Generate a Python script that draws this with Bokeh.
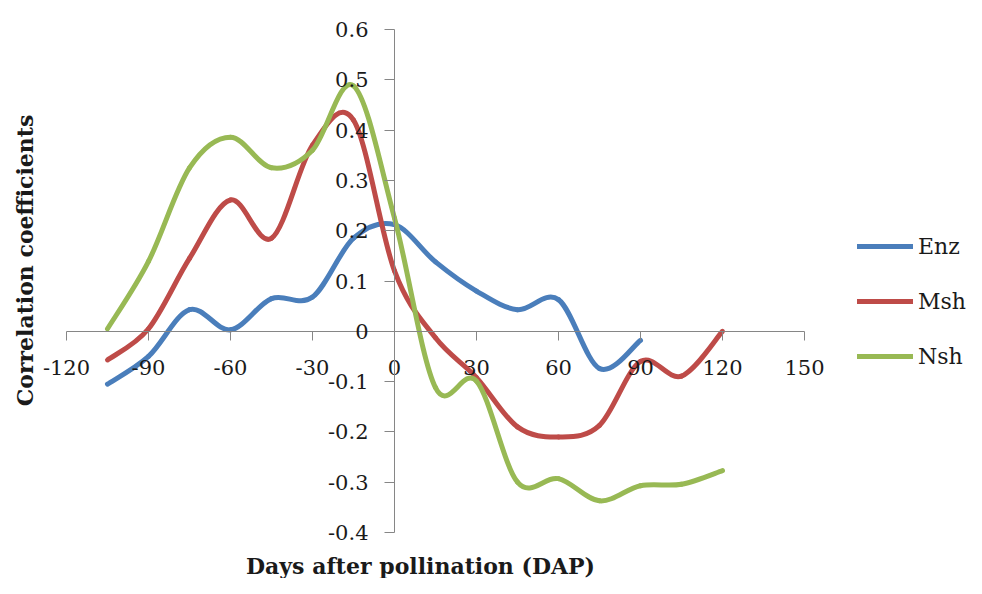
import math
from bokeh.plotting import figure
from bokeh.models import FixedTicker, Legend, LegendItem, Label, ColumnDataSource
from bokeh.embed import file_html
from bokeh.resources import INLINE

# ---- data ----
days_enz = [-105, -90, -75, -60, -45, -30, -15, 0, 15, 30, 45, 60, 75, 90]
enz = [-0.105, -0.05, 0.043, 0.003, 0.065, 0.068, 0.185, 0.212, 0.138, 0.08, 0.043, 0.063, -0.074, -0.018]

days_all = [-105, -90, -75, -60, -45, -30, -15, 0, 15, 30, 45, 60, 75, 90, 105, 120]
msh = [-0.057, 0.005, 0.145, 0.261, 0.185, 0.37, 0.42, 0.12, -0.013, -0.092, -0.19, -0.21, -0.187, -0.06, -0.089, 0.0]
nsh = [0.005, 0.139, 0.325, 0.386, 0.325, 0.36, 0.488, 0.225, -0.112, -0.099, -0.30, -0.293, -0.337, -0.307, -0.304, -0.277]

series_names = ["Enz", "Msh", "Nsh"]
series_colors = ["#4A7EBB", "#BE4B48", "#98B954"]

x_ticks = [-120, -90, -60, -30, 0, 30, 60, 90, 120, 150]
x_tick_labels = ["-120", "-90", "-60", "-30", "0", "30", "60", "90", "120", "150"]
y_ticks = [-0.4, -0.3, -0.2, -0.1, 0, 0.1, 0.2, 0.3, 0.4, 0.5, 0.6]
y_tick_labels = ["-0.4", "-0.3", "-0.2", "-0.1", "0", "0.1", "0.2", "0.3", "0.4", "0.5", "0.6"]

x_label = "Days after pollination (DAP)"
y_label = "Correlation coefficients"

SERIF = "DejaVu Serif"
W, H = 966, 578
# pixel geometry of the axes box (canvas px from top-left)
AX_L, AX_R, AX_T, AX_B = 66, 804, 29, 532
X0, X1 = x_ticks[0], x_ticks[-1]
Y0, Y1 = y_ticks[0], y_ticks[-1]
sx = (AX_R - AX_L) / (X1 - X0)
sy = (AX_B - AX_T) / (Y1 - Y0)
x_range = (X0 - AX_L / sx, X1 + (W - AX_R) / sx)
y_range = (Y0 - (H - AX_B) / sy, Y1 + AX_T / sy)


def px_to_data(px, py):
    return x_range[0] + px / sx, y_range[1] - py / sy


def smooth_segments(xs, ys):
    """Catmull-Rom style control points for bezier segments (Excel-like smoothing)."""
    n = len(xs)
    d = dict(x0=[], y0=[], x1=[], y1=[], cx0=[], cy0=[], cx1=[], cy1=[])
    for i in range(n - 1):
        xm, ym = (xs[i - 1], ys[i - 1]) if i > 0 else (xs[i], ys[i])
        xp, yp = (xs[i + 2], ys[i + 2]) if i + 2 < n else (xs[i + 1], ys[i + 1])
        d["x0"].append(xs[i]); d["y0"].append(ys[i])
        d["x1"].append(xs[i + 1]); d["y1"].append(ys[i + 1])
        d["cx0"].append(xs[i] + (xs[i + 1] - xm) / 6.0)
        d["cy0"].append(ys[i] + (ys[i + 1] - ym) / 6.0)
        d["cx1"].append(xs[i + 1] - (xp - xs[i]) / 6.0)
        d["cy1"].append(ys[i + 1] - (yp - ys[i]) / 6.0)
    return ColumnDataSource(d)


p = figure(width=W, height=H, output_backend="svg", toolbar_location=None,
           x_range=x_range, y_range=y_range, min_border=0)
p.outline_line_color = None
p.grid.visible = False
p.background_fill_color = "white"
p.border_fill_color = "white"

# axes crossing at origin
p.xaxis.fixed_location = 0
p.yaxis.fixed_location = 0
p.xaxis.bounds = (X0, X1)
p.yaxis.bounds = (Y0, Y1)
for ax in (p.xaxis, p.yaxis):
    ax.axis_line_color = "#868686"
    ax.major_tick_line_color = "#868686"
    ax.minor_tick_line_color = None
    ax.major_tick_in = 0
    ax.major_label_text_font = SERIF
    ax.major_label_text_font_size = "21px"
    ax.major_label_text_color = "#1a1a1a"
p.xaxis.ticker = FixedTicker(ticks=x_ticks)
p.yaxis.ticker = FixedTicker(ticks=y_ticks)
p.xaxis.major_label_overrides = {v: s for v, s in zip(x_ticks, x_tick_labels)}
p.yaxis.major_label_overrides = {v: s for v, s in zip(y_ticks, y_tick_labels)}
p.xaxis.major_tick_out = 9
p.yaxis.major_tick_out = 10
p.xaxis.major_label_standoff = 20
p.yaxis.major_label_standoff = 16

renderers = []
for xs, ys, col in ((days_enz, enz, series_colors[0]),
                    (days_all, msh, series_colors[1]),
                    (days_all, nsh, series_colors[2])):
    src = smooth_segments(xs, ys)
    r = p.bezier(x0="x0", y0="y0", x1="x1", y1="y1", cx0="cx0", cy0="cy0",
                 cx1="cx1", cy1="cy1", source=src, line_color=col, line_width=5,
                 line_cap="round", line_join="round")
    renderers.append(r)

legend = Legend(items=[LegendItem(label=n, renderers=[r], index=0) for n, r in zip(series_names, renderers)],
                location=(857, H - 371), padding=0, margin=0, spacing=25,
                glyph_width=56, glyph_height=30, label_height=30, label_standoff=5,
                label_text_font=SERIF, label_text_font_size="22px", label_text_color="#1a1a1a",
                label_text_baseline="middle",
                border_line_color=None, background_fill_alpha=0)
p.add_layout(legend, "center")

lx, ly = px_to_data(420, 552)
p.add_layout(Label(x=lx, y=ly, text=x_label, text_align="center", text_baseline="top",
                   text_font=SERIF, text_font_size="22px", text_font_style="bold",
                   text_color="#1a1a1a"))
yx, yy = px_to_data(24, 260)
p.add_layout(Label(x=yx, y=yy, text=y_label, text_align="center", text_baseline="middle",
                   angle=math.pi / 2, text_font=SERIF, text_font_size="22px",
                   text_font_style="bold", text_color="#1a1a1a"))

open("out.html", "w").write(file_html(p, INLINE))
